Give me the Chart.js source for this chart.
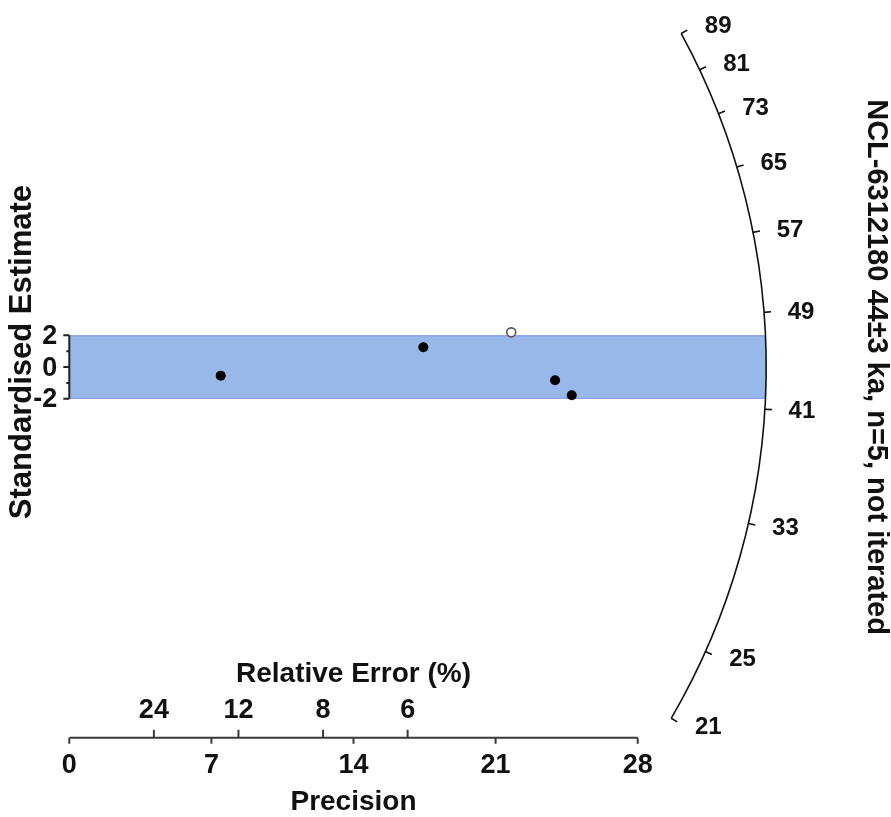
<!DOCTYPE html>
<html>
<head>
<meta charset="utf-8">
<script src="https://cdn.jsdelivr.net/npm/chart.js@4/dist/chart.umd.min.js"></script>
<style>
  html, body { margin: 0; padding: 0; background: #ffffff; }
  canvas { display: block; }
</style>
</head>
<body>
<canvas id="radial" width="891" height="817"></canvas>
<script>
// Aliquot values: precision (1/relative sigma) and standardised estimate (z)
const precision = [7.46, 17.44, 21.77, 23.93, 24.75];
const standardisedEstimate = [-0.54, 1.25, 2.19, -0.83, -1.77];
const openMarker = [false, false, true, false, false];

// Axis ticks
const precisionTicks = [0, 7, 14, 21, 28];
const relativeErrorTicks = [24, 12, 8, 6];
const zMajorTicks = [2, 0, -2];
const zMinorTicks = [1, -1];
const ageTicks = [21, 25, 33, 41, 49, 57, 65, 73, 81, 89];

// Central age (ka) and the +/-2 band
const centralAge = 44.3;
const bandHalfWidth = 2;
const arcRadius = 34.33; // in precision units

const titleText = 'NCL-6312180 44\u00b13 ka, n=5, not iterated';
const FONT = '"Liberation Sans", Arial, Helvetica, sans-serif';

const filledPts = [], openPts = [];
precision.forEach((p, i) => {
  (openMarker[i] ? openPts : filledPts).push({ x: p, y: standardisedEstimate[i] });
});

const radialPlugin = {
  id: 'radialPlot',
  geometry(chart) {
    const xs = chart.scales.x, ys = chart.scales.y;
    const cx = xs.getPixelForValue(0);
    const cy = ys.getPixelForValue(0);
    const pxPerX = xs.getPixelForValue(1) - cx;
    const pxPerZ = cy - ys.getPixelForValue(1);
    const R = xs.getPixelForValue(arcRadius) - cx;
    const angleFor = (age) => Math.atan(Math.log(age / centralAge) * pxPerZ / pxPerX);
    return { xs, ys, cx, cy, R, angleFor };
  },
  beforeDatasetsDraw(chart) {
    const { ctx } = chart;
    const { ys, cx, cy, R } = this.geometry(chart);
    const yTop = ys.getPixelForValue(bandHalfWidth);
    const yBot = ys.getPixelForValue(-bandHalfWidth);
    const a1 = -Math.asin((cy - yTop) / R);
    const a2 = Math.asin((yBot - cy) / R);
    ctx.save();
    ctx.beginPath();
    ctx.moveTo(cx, yTop);
    ctx.lineTo(cx + R * Math.cos(a1), yTop);
    ctx.arc(cx, cy, R, a1, a2, false);
    ctx.lineTo(cx, yBot);
    ctx.closePath();
    ctx.fillStyle = '#97b8e8';
    ctx.fill();
    ctx.strokeStyle = '#8199e6';
    ctx.lineWidth = 1;
    ctx.beginPath();
    ctx.moveTo(cx, yTop + 0.5); ctx.lineTo(cx + R * Math.cos(a1), yTop + 0.5);
    ctx.moveTo(cx, yBot - 0.5); ctx.lineTo(cx + R * Math.cos(a2), yBot - 0.5);
    ctx.stroke();
    ctx.restore();
  },
  afterDraw(chart) {
    const { ctx } = chart;
    const { xs, ys, cx, cy, R, angleFor } = this.geometry(chart);
    ctx.save();
    ctx.fillStyle = '#111111';
    ctx.textAlign = 'center';
    ctx.textBaseline = 'middle';

    // Precision axis with relative error ticks above
    const axisY = chart.chartArea.bottom;
    const x0 = xs.getPixelForValue(precisionTicks[0]);
    const x1 = xs.getPixelForValue(precisionTicks[precisionTicks.length - 1]);
    ctx.strokeStyle = '#3a3a3a';
    ctx.lineWidth = 2;
    ctx.beginPath();
    ctx.moveTo(x0, axisY); ctx.lineTo(x1, axisY);
    precisionTicks.forEach(t => {
      const px = xs.getPixelForValue(t);
      ctx.moveTo(px, axisY); ctx.lineTo(px, axisY + 6);
    });
    relativeErrorTicks.forEach(r => {
      const px = xs.getPixelForValue(100 / r);
      ctx.moveTo(px, axisY); ctx.lineTo(px, axisY - 8);
    });
    ctx.stroke();

    ctx.font = 'bold 27px ' + FONT;
    precisionTicks.forEach(t => ctx.fillText(String(t), xs.getPixelForValue(t), axisY + 28));
    relativeErrorTicks.forEach(r => ctx.fillText(String(r), xs.getPixelForValue(100 / r), axisY - 27));
    ctx.font = 'bold 28px ' + FONT;
    const midX = (x0 + x1) / 2;
    ctx.fillText('Precision', midX, axisY + 65);
    ctx.fillText('Relative Error (%)', midX, axisY - 63);

    // Standardised estimate axis (-2..2)
    const yA = ys.getPixelForValue(zMajorTicks[0]);
    const yB = ys.getPixelForValue(zMajorTicks[zMajorTicks.length - 1]);
    ctx.strokeStyle = '#222222';
    ctx.lineWidth = 2;
    ctx.beginPath();
    ctx.moveTo(cx, yA); ctx.lineTo(cx, yB);
    zMajorTicks.forEach(z => {
      const py = ys.getPixelForValue(z);
      ctx.moveTo(cx, py); ctx.lineTo(cx - 6, py);
    });
    zMinorTicks.forEach(z => {
      const py = ys.getPixelForValue(z);
      ctx.moveTo(cx, py); ctx.lineTo(cx - 3, py);
    });
    ctx.stroke();
    ctx.font = 'bold 27px ' + FONT;
    ctx.textAlign = 'right';
    zMajorTicks.forEach(z => ctx.fillText(String(z), cx - 12, ys.getPixelForValue(z) + 1));

    ctx.textAlign = 'center';
    ctx.font = 'bold 31px ' + FONT;
    ctx.save();
    ctx.translate(22, cy - 15);
    ctx.rotate(-Math.PI / 2);
    ctx.fillText('Standardised Estimate', 0, 0);
    ctx.restore();

    // Age arc on a log scale
    const aTop = angleFor(ageTicks[ageTicks.length - 1]);
    const aBot = angleFor(ageTicks[0]);
    ctx.strokeStyle = '#111111';
    ctx.lineWidth = 1.6;
    ctx.beginPath();
    ctx.arc(cx, cy, R, -aTop, -aBot, false);
    ctx.stroke();
    ctx.beginPath();
    ageTicks.forEach(t => {
      const a = angleFor(t);
      ctx.moveTo(cx + R * Math.cos(a), cy - R * Math.sin(a));
      ctx.lineTo(cx + (R + 7) * Math.cos(a), cy - (R + 7) * Math.sin(a));
    });
    ctx.stroke();
    ctx.font = 'bold 24px ' + FONT;
    ageTicks.forEach(t => {
      const a = angleFor(t);
      const px = cx + R * Math.cos(a), py = cy - R * Math.sin(a);
      ctx.fillText(String(t), px + 37, py - 16 * Math.sin(a) + 1);
    });

    // Right-hand title
    ctx.font = 'bold 29px ' + FONT;
    ctx.save();
    ctx.translate(876, cy);
    ctx.rotate(Math.PI / 2);
    ctx.fillText(titleText, 0, 0);
    ctx.restore();

    ctx.restore();
  }
};

const pxPerZ = 16;
const areaBottom = 737.7, zeroY = 364;
const yMax = zeroY / pxPerZ;
const yMin = yMax - areaBottom / pxPerZ;

new Chart(document.getElementById('radial'), {
  type: 'scatter',
  data: {
    datasets: [
      {
        data: filledPts,
        pointRadius: 5,
        pointHoverRadius: 5,
        pointBackgroundColor: '#000000',
        pointBorderColor: '#000000',
        pointBorderWidth: 0
      },
      {
        data: openPts,
        pointRadius: 4.5,
        pointHoverRadius: 4.5,
        pointBackgroundColor: '#ffffff',
        pointBorderColor: '#555555',
        pointBorderWidth: 1.6
      }
    ]
  },
  options: {
    responsive: false,
    animation: false,
    events: [],
    layout: { padding: { left: 69.3, right: 891 - 637.7, top: 0, bottom: 817 - areaBottom } },
    plugins: { legend: { display: false }, tooltip: { enabled: false } },
    scales: {
      x: { type: 'linear', min: 0, max: 28, display: false },
      y: { type: 'linear', min: yMin, max: yMax, display: false }
    }
  },
  plugins: [radialPlugin]
});
</script>
</body>
</html>
